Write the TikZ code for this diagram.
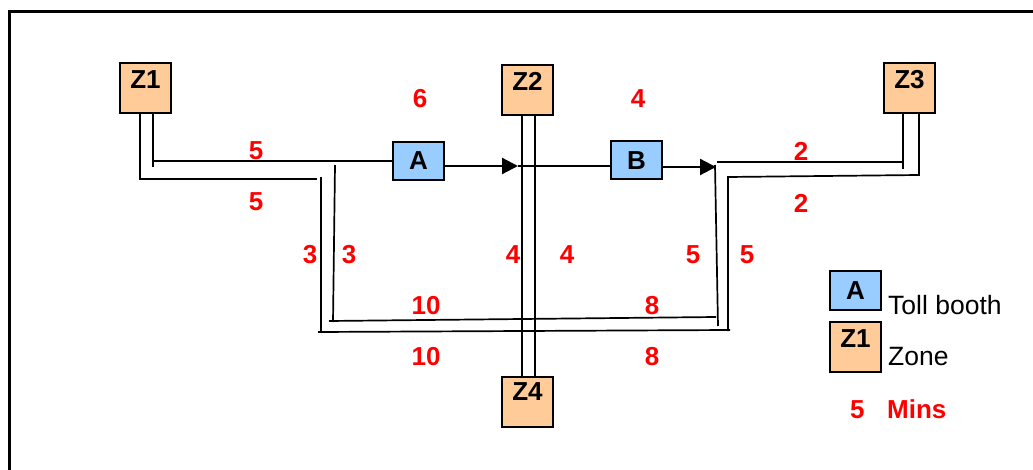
\documentclass[tikz,border=0pt]{standalone}
\usepackage{fontspec}
\setmainfont{Liberation Sans}
\usetikzlibrary{arrows.meta,calc,backgrounds}
\definecolor{zonefill}{RGB}{255,204,153}
\definecolor{boothfill}{RGB}{153,204,255}
\definecolor{numred}{RGB}{255,0,0}
\begin{document}
\begin{tikzpicture}[x=1pt,y=-1pt,
  route/.style={line width=1.7pt},
  boxbase/.style={draw, line width=2pt, minimum width=51pt, inner sep=0pt, font=\fontsize{26}{31}\selectfont\bfseries},
  zone/.style={boxbase, fill=zonefill, minimum height=50pt},
  booth/.style={boxbase, fill=boothfill, minimum height=38pt},
  zlabel/.style={anchor=north, inner sep=0pt, yshift=-8pt, font=\fontsize{26}{31}\selectfont\bfseries},
  num/.style={text=numred, font=\fontsize{26}{31}\selectfont\bfseries, inner sep=0pt},
  legendtext/.style={anchor=base west, inner sep=0pt, font=\fontsize{26.5}{31}\selectfont},
  arrowline/.style={line width=2.2pt, -{Triangle[length=16pt,width=16pt]}}
]
\useasboundingbox (0,0) rectangle (1033,470);
% frame
\draw[line width=3pt] (1033,11.5) -- (9.5,11.5) -- (9.5,470);

% nodes
\node[zone, label={[zlabel]north:Z1}] (Z1) at (145.5,88) {};
\node[zone, label={[zlabel]north:Z2}] (Z2) at (527.5,90) {};
\node[zone, label={[zlabel]north:Z3}] (Z3) at (909.5,88) {};
\node[zone, label={[zlabel, yshift=2pt]north:Z4}] (Z4) at (527.5,402) {};
\node[booth] (A) at (418.5,161) {A};
\node[booth] (B) at (636.5,160.5) {B};

\begin{scope}[on background layer]
% Z1 routes
\draw[route] ($(Z1.south)+(7.5,0)$) -- (153,167);
\draw[route] (153,161) -- (A.west);
\draw[route] ($(Z1.south)+(-5.5,0)$) |- (317,179);
\draw[route] (321,177) -- (321,332);
\draw[route] (318,332) -- (730,330);
\draw[route] (335,165) -- (333,322);
\draw[route] (329,321) -- (716,317);
\draw[route] (715,165) -- (718,326);
% Z3 routes
\draw[route] (728,331) -- (728,177) -- (919,175) -- ($(Z3.south)+(9.5,0)$);
\draw[route] ($(Z3.south)+(-6.5,0)$) -- (903,169);
\draw[route] (717,162) -- (903,162);
% Z2 - Z4
\draw[route] ($(Z2.south)+(-5.5,0)$) -- ($(Z4.north)+(-5.5,0)$);
\draw[route] ($(Z2.south)+(7.5,0)$) -- ($(Z4.north)+(7.5,0)$);
% toll lines
\draw[route] (518,166) -- ([yshift=-5.5pt]B.west);
\end{scope}

\draw[arrowline] ([yshift=-5pt]A.east) -- (518,166);
\draw[arrowline] ([yshift=-6.5pt]B.east) -- (716,167);

% times
\node[num] (t6) at (420,99) {6};
\node[num] (t4) at (638,99) {4};
\node[num] (t5a) at (256,151) {5};
\node[num] (t5b) at (256,202) {5};
\node[num] (t2a) at (801,151) {2};
\node[num] (t2b) at (801,203) {2};
\node[num] (t3a) at (310,255) {3};
\node[num] (t3b) at (349,255) {3};
\node[num] (t4a) at (513,255) {4};
\node[num] (t4b) at (567,255) {4};
\node[num] (t5c) at (693,255) {5};
\node[num] (t5d) at (747,255) {5};
\node[num] (t10a) at (426,306) {10};
\node[num] (t8a) at (652,306) {8};
\node[num] (t10b) at (426,357) {10};
\node[num] (t8b) at (652,357) {8};

% legend
\node[booth] (LA) at (855.5,290.5) {A};
\node[zone, label={[zlabel]north:Z1}] (LZ) at (855.5,347) {};
\node[legendtext] (LAt) at (888,314) {Toll booth};
\node[legendtext] (LZt) at (888,365) {Zone};
\node[num, anchor=base west] (L5) at (850,418) {5};
\node[num, anchor=base west] (Lm) at (887,418) {Mins};
\end{tikzpicture}
\end{document}
